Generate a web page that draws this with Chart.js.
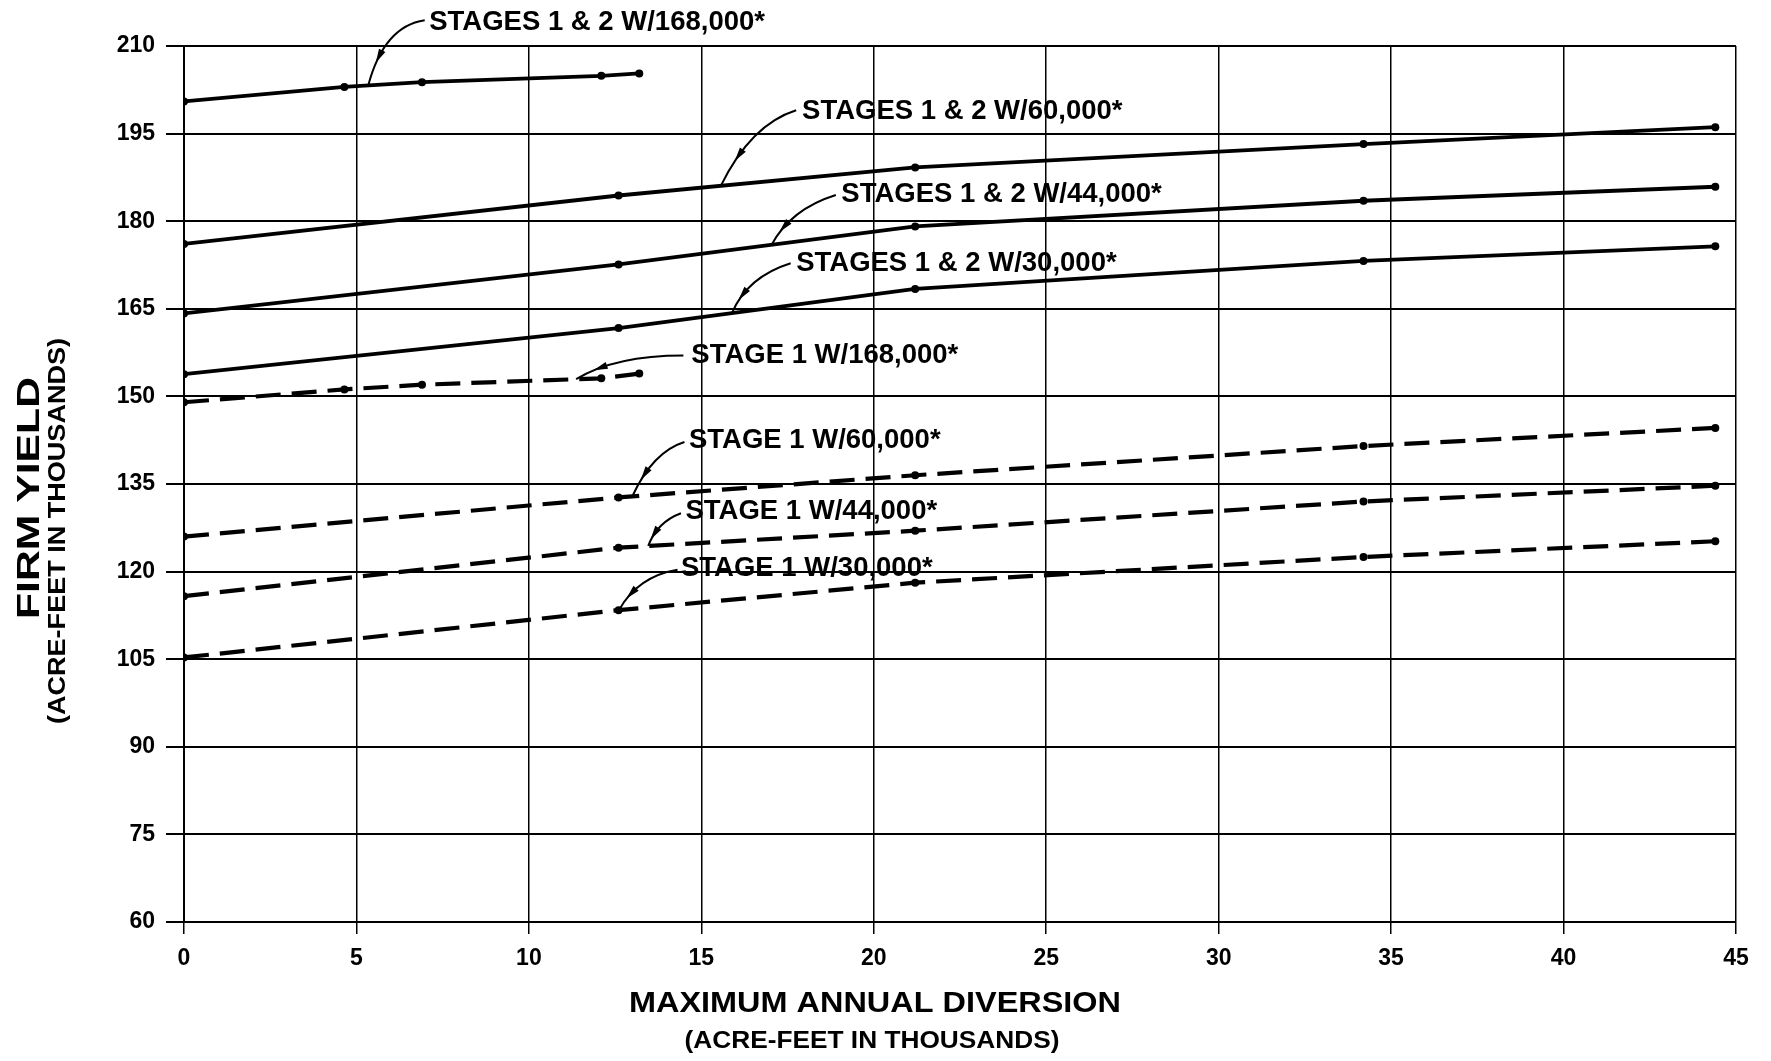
<!DOCTYPE html>
<html>
<head>
<meta charset="utf-8">
<script src="https://cdn.jsdelivr.net/npm/chart.js@4/dist/chart.umd.min.js"></script>
<style>
html,body{margin:0;padding:0;background:#fff;}
#wrap{width:1771px;height:1061px;position:relative;}
</style>
</head>
<body>
<div id="wrap"><canvas id="c"></canvas></div>
<script>
// ---- data ----
const xTicks = [0, 5, 10, 15, 20, 25, 30, 35, 40, 45];
const yTicks = [60, 75, 90, 105, 120, 135, 150, 165, 180, 195, 210];

const longX  = [0, 12.6, 21.2, 34.2, 44.4];
const shortX = [0, 4.65, 6.9, 12.1, 13.2];

const s12_168 = [200.5, 203.0, 203.8, 204.9, 205.3];
const s12_60  = [176.1, 184.4, 189.2, 193.2, 196.1];
const s12_44  = [164.2, 172.6, 179.1, 183.5, 185.9];
const s12_30  = [153.8, 161.7, 168.4, 173.2, 175.7];
const s1_168  = [149.0, 151.2, 152.0, 153.1, 153.9];
const s1_60   = [126.0, 132.7, 136.5, 141.5, 144.6];
const s1_44   = [115.8, 124.1, 127.0, 132.0, 134.7];
const s1_30   = [105.3, 113.4, 118.1, 122.5, 125.2];

const seriesNames = [
  "STAGES 1 & 2 W/168,000*",
  "STAGES 1 & 2 W/60,000*",
  "STAGES 1 & 2 W/44,000*",
  "STAGES 1 & 2 W/30,000*",
  "STAGE 1 W/168,000*",
  "STAGE 1 W/60,000*",
  "STAGE 1 W/44,000*",
  "STAGE 1 W/30,000*"
];
const seriesX = [shortX, longX, longX, longX, shortX, longX, longX, longX];
const seriesY = [s12_168, s12_60, s12_44, s12_30, s1_168, s1_60, s1_44, s1_30];
const seriesDashed = [false, false, false, false, true, true, true, true];

const xTitle = "MAXIMUM ANNUAL DIVERSION";
const xSubtitle = "(ACRE-FEET IN THOUSANDS)";
const yTitle = "FIRM YIELD";
const ySubtitle = "(ACRE-FEET IN THOUSANDS)";

// ---- label layout (data coordinates): text anchor, leader start, control, end ----
const labelLayout = [
  {tx: 7.11, ty: 214.1, sx: 6.98, sy: 214.4, cx: 5.8,  cy: 213.4, ex: 5.34,  ey: 203.2},
  {tx: 17.92, ty: 198.8, sx: 17.75, sy: 199.0, cx: 16.44, cy: 196.6, ex: 15.56, ey: 186.0},
  {tx: 19.06, ty: 184.5, sx: 18.9, sy: 184.5, cx: 17.59, cy: 182.1, ex: 17.03, ey: 175.9},
  {tx: 17.75, ty: 172.8, sx: 17.59, sy: 172.8, cx: 16.34, cy: 170.5, ex: 15.89, ey: 164.3},
  {tx: 14.71, ty: 157.0, sx: 14.48, sy: 157.0, cx: 12.5, cy: 157.0, ex: 11.37, ey: 152.95},
  {tx: 14.64, ty: 142.5, sx: 14.51, sy: 142.2, cx: 13.59, cy: 140.5, ex: 13.0, ey: 132.9},
  {tx: 14.54, ty: 130.3, sx: 14.41, sy: 130.0, cx: 13.72, cy: 128.5, ex: 13.46, ey: 124.4},
  {tx: 14.41, ty: 120.6, sx: 14.31, sy: 120.3, cx: 13.17, cy: 119.2, ex: 12.61, ey: 113.4}
];

const FONT = '"Liberation Sans", Arial, Helvetica, sans-serif';

const datasets = seriesNames.map((name, i) => ({
  label: name,
  data: seriesX[i].map((x, j) => ({x: x, y: seriesY[i][j]})),
  borderColor: '#000',
  backgroundColor: '#000',
  borderWidth: seriesDashed[i] ? 4.2 : 3.8,
  borderDash: seriesDashed[i] ? [25, 11] : [],
  pointRadius: 4,
  pointHoverRadius: 4,
  pointBackgroundColor: '#000',
  pointBorderWidth: 0,
  tension: 0,
  fill: false
}));

function drawFitted(ctx, text, x, y, font, targetW, align) {
  ctx.save();
  ctx.font = font;
  const w = ctx.measureText(text).width;
  const sx = targetW ? targetW / w : 1;
  ctx.translate(x, y);
  ctx.scale(sx, 1);
  ctx.textAlign = align || 'center';
  ctx.textBaseline = 'middle';
  ctx.fillText(text, 0, 0);
  ctx.restore();
}

const annotPlugin = {
  id: 'annot',
  afterDraw(chart) {
    const ctx = chart.ctx;
    const xs = chart.scales.x, ys = chart.scales.y;
    const px = v => xs.getPixelForValue(v), py = v => ys.getPixelForValue(v);
    ctx.save();
    ctx.fillStyle = '#000';
    ctx.strokeStyle = '#000';
    // series labels with leaders
    labelLayout.forEach((L, i) => {
      ctx.font = 'bold 27.5px ' + FONT;
      ctx.textAlign = 'left';
      ctx.textBaseline = 'middle';
      ctx.fillText(seriesNames[i], px(L.tx), py(L.ty));
      const x0 = px(L.sx), y0 = py(L.sy), x1 = px(L.cx), y1 = py(L.cy), x2 = px(L.ex), y2 = py(L.ey);
      ctx.lineWidth = 2;
      ctx.setLineDash([]);
      ctx.beginPath();
      ctx.moveTo(x0, y0);
      ctx.quadraticCurveTo(x1, y1, x2, y2);
      ctx.stroke();
      // arrowhead along the curve
      const t = 0.72;
      const bx = (1-t)*(1-t)*x0 + 2*(1-t)*t*x1 + t*t*x2;
      const by = (1-t)*(1-t)*y0 + 2*(1-t)*t*y1 + t*t*y2;
      const dx = 2*(1-t)*(x1-x0) + 2*t*(x2-x1);
      const dy = 2*(1-t)*(y1-y0) + 2*t*(y2-y1);
      const len = Math.hypot(dx, dy) || 1;
      const ux = dx/len, uy = dy/len;
      const al = 14, aw = 3.6;
      ctx.beginPath();
      ctx.moveTo(bx + ux*al/2, by + uy*al/2);
      ctx.lineTo(bx - ux*al/2 - uy*aw, by - uy*al/2 + ux*aw);
      ctx.lineTo(bx - ux*al/2 + uy*aw, by - uy*al/2 - ux*aw);
      ctx.closePath();
      ctx.fill();
    });
    // axis titles
    drawFitted(ctx, xTitle, 875, 1004, 'bold 30px ' + FONT, 492, 'center');
    drawFitted(ctx, xSubtitle, 872, 1042, 'bold 23px ' + FONT, 375, 'center');
    ctx.save();
    ctx.translate(30, 498);
    ctx.rotate(-Math.PI/2);
    drawFitted(ctx, yTitle, 0, 0, 'bold 31px ' + FONT, 242, 'center');
    ctx.restore();
    ctx.save();
    ctx.translate(59, 531);
    ctx.rotate(-Math.PI/2);
    drawFitted(ctx, ySubtitle, 0, 0, 'bold 23px ' + FONT, 386, 'center');
    ctx.restore();
    ctx.restore();
  }
};

new Chart(document.getElementById('c'), {
  type: 'line',
  data: {datasets: datasets},
  options: {
    responsive: true,
    maintainAspectRatio: false,
    animation: false,
    events: [],
    layout: {padding: {left: 0, right: 35, top: 46, bottom: 0}},
    plugins: {legend: {display: false}, tooltip: {enabled: false}, title: {display: false}},
    scales: {
      x: {
        type: 'linear',
        min: 0, max: 45,
        afterBuildTicks: s => { s.ticks = xTicks.map(v => ({value: v})); },
        afterFit: s => { s.height = 139; },
        grid: {color: '#000', lineWidth: 1.5, tickLength: 12, drawTicks: true},
        border: {color: '#000', width: 2},
        ticks: {color: '#000', font: {family: FONT, size: 23, weight: 'bold'}, padding: 11, maxRotation: 0, autoSkip: false}
      },
      y: {
        type: 'linear',
        min: 60, max: 210,
        afterBuildTicks: s => { s.ticks = yTicks.map(v => ({value: v})); },
        afterFit: s => { s.width = 184; },
        grid: {color: '#000', lineWidth: 2, tickLength: 18, drawTicks: true},
        border: {color: '#000', width: 2},
        ticks: {color: '#000', font: {family: FONT, size: 23, weight: 'bold'}, padding: 11, autoSkip: false}
      }
    }
  },
  plugins: [annotPlugin]
});
</script>
</body>
</html>
